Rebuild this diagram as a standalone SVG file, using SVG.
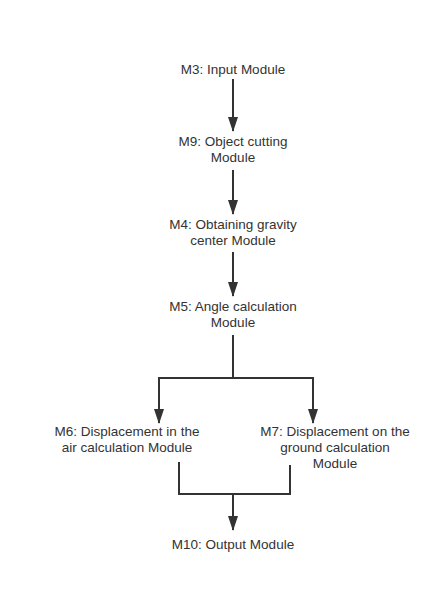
<svg xmlns="http://www.w3.org/2000/svg" width="448" height="596" viewBox="0 0 448 596">
<style>
text{font-family:"Liberation Sans",Arial,sans-serif;font-size:13.5px;fill:#333;text-anchor:middle;dominant-baseline:central}
.c{fill:none;stroke:#333;stroke-width:2}
</style>
<defs>
<marker id="a" viewBox="0 0 15 10" refX="14" refY="5" markerUnits="userSpaceOnUse" markerWidth="15" markerHeight="10" orient="auto">
<path d="M0,0L15,5L0,10z" fill="#333"/>
</marker>
</defs>
<rect width="448" height="596" fill="#fff"/>
<g id="connectors">
<path class="c" d="M233,79V131" marker-end="url(#a)"/>
<path class="c" d="M233,170V214" marker-end="url(#a)"/>
<path class="c" d="M233,252V296" marker-end="url(#a)"/>
<path class="c" d="M233,335V378H159V423" marker-end="url(#a)"/>
<path class="c" d="M233,378H313V423" marker-end="url(#a)"/>
<path class="c" d="M179,462V494H290V465"/>
<path class="c" d="M233,494V530" marker-end="url(#a)"/>
</g>
<g id="m3"><text x="233" y="69">M3: Input Module</text></g>
<g id="m9"><text x="233" y="141">M9: Object cutting</text><text x="233" y="157">Module</text></g>
<g id="m4"><text x="233" y="224">M4: Obtaining gravity</text><text x="233" y="240">center Module</text></g>
<g id="m5"><text x="233" y="306">M5: Angle calculation</text><text x="233" y="322">Module</text></g>
<g id="m6"><text x="127" y="431">M6: Displacement in the</text><text x="127" y="447">air calculation Module</text></g>
<g id="m7"><text x="335" y="431">M7: Displacement on the</text><text x="335" y="447">ground calculation</text><text x="335" y="463">Module</text></g>
<g id="m10"><text x="233" y="544">M10: Output Module</text></g>
</svg>
